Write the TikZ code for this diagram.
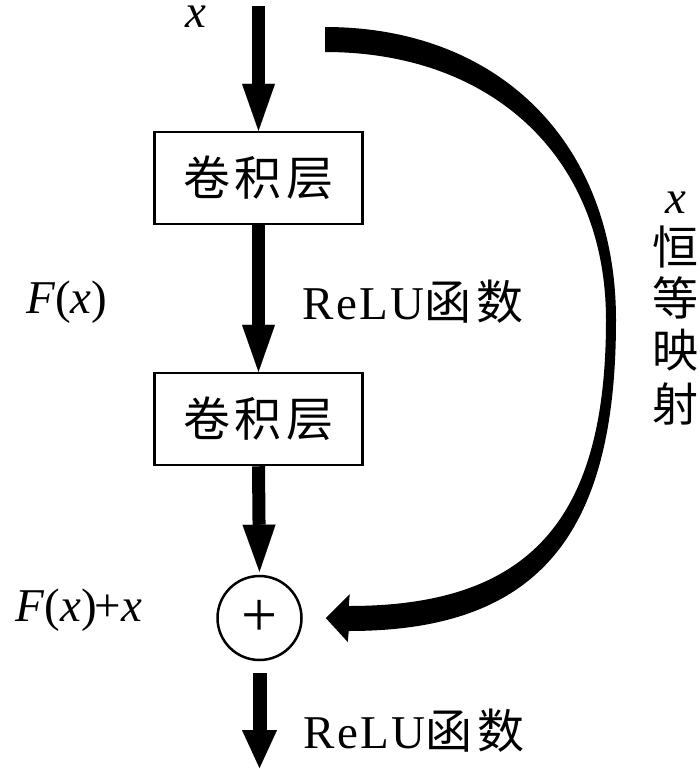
\documentclass[tikz,border=0pt]{standalone}
\usepackage{fontspec}
\setmainfont{Liberation Serif}
\newfontfamily\tm[LetterSpace=5]{Liberation Serif}
\newfontfamily\tmw[LetterSpace=10]{Liberation Serif}
\newfontfamily\cjk[LetterSpace=10]{Noto Sans CJK SC}
\newfontfamily\cjkv{Noto Sans CJK SC}
\usetikzlibrary{arrows.meta,calc}
\begin{document}
\begin{tikzpicture}[x=1pt,y=-1pt,
  stepbox/.style={draw, line width=2.5pt, minimum width=208pt, minimum height=92pt, inner sep=0pt,
    font=\fontsize{47}{50}\selectfont\cjk},
  sumnode/.style={draw, circle, line width=2.5pt, minimum size=84pt, inner sep=0pt,
    font=\fontsize{64}{64}\selectfont},
  flow/.style={line width=13pt, -{Triangle[width=33pt,length=47pt,line width=0.01pt]}},
  flowend/.style={line width=14pt, -{Triangle[width=35pt,length=38pt,line width=0.01pt]}},
  lab/.style={inner sep=0pt, font=\fontsize{47}{50}\selectfont},
  vlab/.style={inner sep=0pt, font=\fontsize{46}{50}\selectfont\cjkv}
]
\useasboundingbox (0,0) rectangle (700,769);
\fill[white] (0,0) rectangle (700,769);

% main chain
\coordinate (in) at (258.5,6);
\node[stepbox] (c1) at (258.5,178) {卷积层};
\node[stepbox] (c2) at (258.5,419) {卷积层};
\node[sumnode] (add) at (259.5,618) {+};
\coordinate (out) at (259.5,768);

\draw[flow] (in) -- (c1.north);
\draw[flow] (c1.south) -- (c2.north);
\draw[flow, shorten >=3pt] (c2.south) -- (add.north);
\draw[flowend, shorten <=12pt] (add.south) -- (out);

% identity shortcut (tapered stroke)
\coordinate (skip) at (325,40);
\coordinate (tip) at ($(add.east)+(23,0)$);
\fill
  ($(skip)+(0,-13)$)
  .. controls ($(skip)+(175,-13)$) and ($(skip)+(291,104)$) .. ($(skip)+(291,280)$)
  .. controls ($(skip)+(291,497)$) and ($(tip)+(211,13)$) .. ($(tip)+(23,13)$)
  -- ($(tip)+(22,24)$) -- (tip) -- ($(tip)+(24,-24)$) -- ($(tip)+(23,-12)$)
  .. controls ($(tip)+(204,-12)$) and ($(skip)+(281,480)$) .. ($(skip)+(281,280)$)
  .. controls ($(skip)+(281,119)$) and ($(skip)+(169,12)$) .. ($(skip)+(0,12)$)
  -- cycle;

% labels
\node[lab] (lx) at (196,17) {\itshape x};
\node[lab] (lF) at (67,302) {\tmw\itshape F\upshape(\itshape x\upshape)};
\node[lab] (lsum) at (79,610) {\tmw\itshape F\upshape(\itshape x\upshape)\kern-2pt+\itshape x};
\node[lab] (r1) at (413,302) {{\tm ReLU}{\cjk 函数}};
\node[lab] (r2) at (414,731) {{\tm ReLU}{\cjk 函数}};

\node[lab] (vx) at (676,203) {\itshape x};
\node[vlab] (v1) at (675,247) {恒};
\node[vlab] (v2) at (675,298) {等};
\node[vlab] (v3) at (675,350) {映};
\node[vlab] (v4) at (675,404) {射};
\end{tikzpicture}
\end{document}
